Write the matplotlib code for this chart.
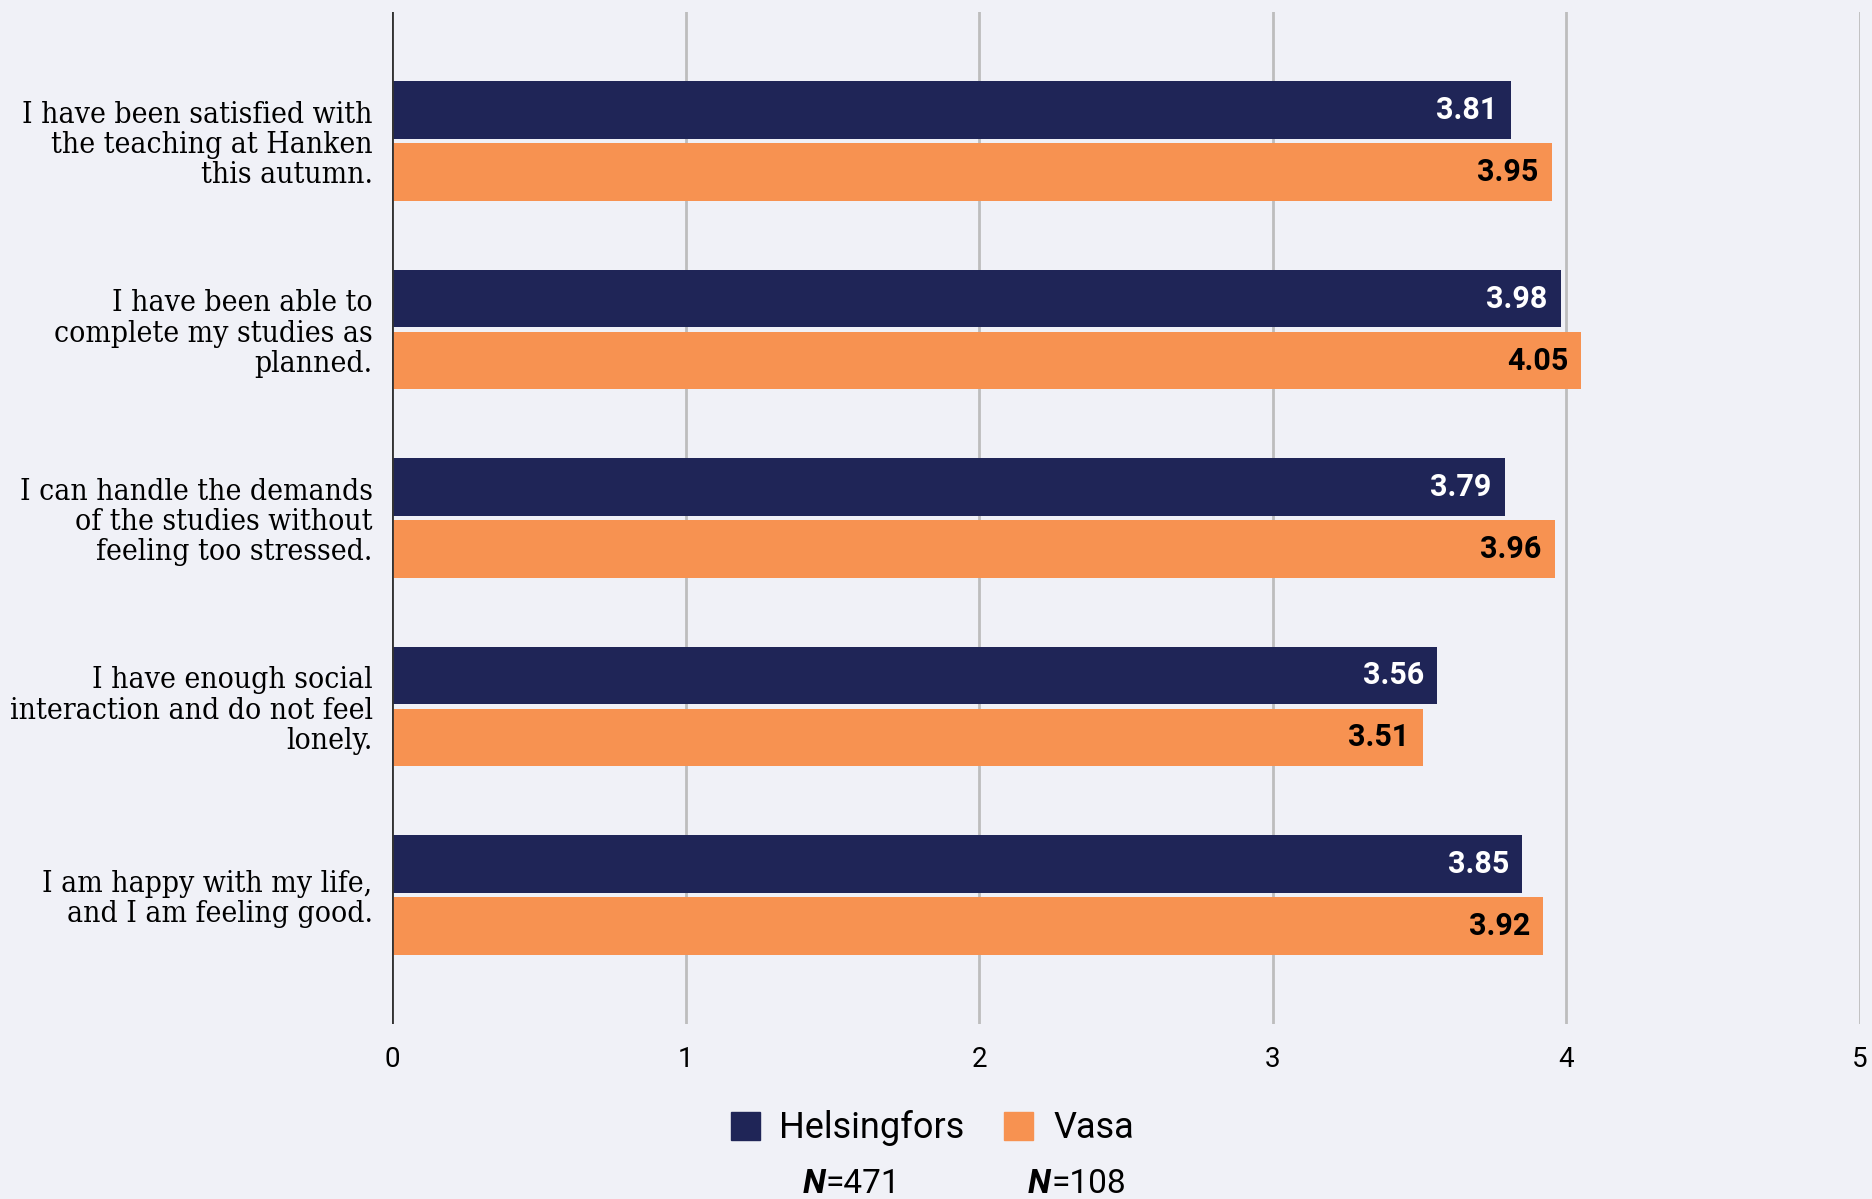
import matplotlib.pyplot as plt
import numpy as np
from matplotlib.patches import Patch

questions = [
    "I have been satisfied with\nthe teaching at Hanken\nthis autumn.",
    "I have been able to\ncomplete my studies as\nplanned.",
    "I can handle the demands\nof the studies without\nfeeling too stressed.",
    "I have enough social\ninteraction and do not feel\nlonely.",
    "I am happy with my life,\nand I am feeling good.",
]
helsingfors = [3.81, 3.98, 3.79, 3.56, 3.85]
vasa = [3.95, 4.05, 3.96, 3.51, 3.92]
campuses = ["Helsingfors", "Vasa"]
n_counts = [471, 108]

navy = '#1f2557'
orange = '#f79251'
bg = '#f0f1f7'

fig = plt.figure(figsize=(18.72, 11.99), dpi=100, facecolor=bg)
ax = fig.add_axes([0.2094, 0.146, 0.7842, 0.844], facecolor=bg)

y = np.arange(len(questions))
h = 0.305
ax.barh(y - 0.1645, helsingfors, height=h, color=navy, zorder=3)
ax.barh(y + 0.1645, vasa, height=h, color=orange, zorder=3)

for i in range(len(questions)):
    ax.annotate(f'{helsingfors[i]:.2f}', (helsingfors[i], y[i] - 0.1645), xytext=(-13, 0),
                textcoords='offset pixels', ha='right', va='center', color='white',
                fontsize=22, fontweight='bold', family='Roboto', zorder=4)
    ax.annotate(f'{vasa[i]:.2f}', (vasa[i], y[i] + 0.1645), xytext=(-13, 0),
                textcoords='offset pixels', ha='right', va='center', color='black',
                fontsize=22, fontweight='bold', family='Roboto', zorder=4)

ax.set_xlim(0, 5)
ax.set_ylim(len(questions) - 1 + 0.685, -0.685)
ax.set_yticks(y)
ax.set_yticklabels(questions, family='DejaVu Serif', fontsize=21.5, fontstretch='condensed',
                   linespacing=1.1)
ax.set_xticks(range(6))
ax.tick_params(axis='both', length=0)
ax.tick_params(axis='y', pad=14)
ax.tick_params(axis='x', pad=16, labelsize=20)
for lab in ax.get_xticklabels():
    lab.set_family('Roboto')
for s in ax.spines.values():
    s.set_visible(False)
ax.grid(axis='x', color='#bdbdbd', linewidth=2, zorder=1)
ax.axvline(0, color='#333333', linewidth=2, zorder=5)

handles = [Patch(color=navy), Patch(color=orange)]
fig.legend(handles, campuses, loc='center', bbox_to_anchor=(0.498, 0.059), ncol=2,
           frameon=False, prop={'family': 'Roboto', 'size': 26}, handlelength=0.8,
           handleheight=0.8, columnspacing=1.1, handletextpad=0.55)

for xpos, n in zip([826 / 1872, 1051 / 1872], n_counts):
    fig.text(xpos, 1 - 1184 / 1199, 'N', ha='right', va='center', fontsize=24,
             fontweight='bold', style='italic', family='Roboto')
    fig.text(xpos, 1 - 1184 / 1199, f'={n}', ha='left', va='center', fontsize=24,
             family='Roboto')

fig.savefig('out.png', dpi=100, facecolor=bg)
